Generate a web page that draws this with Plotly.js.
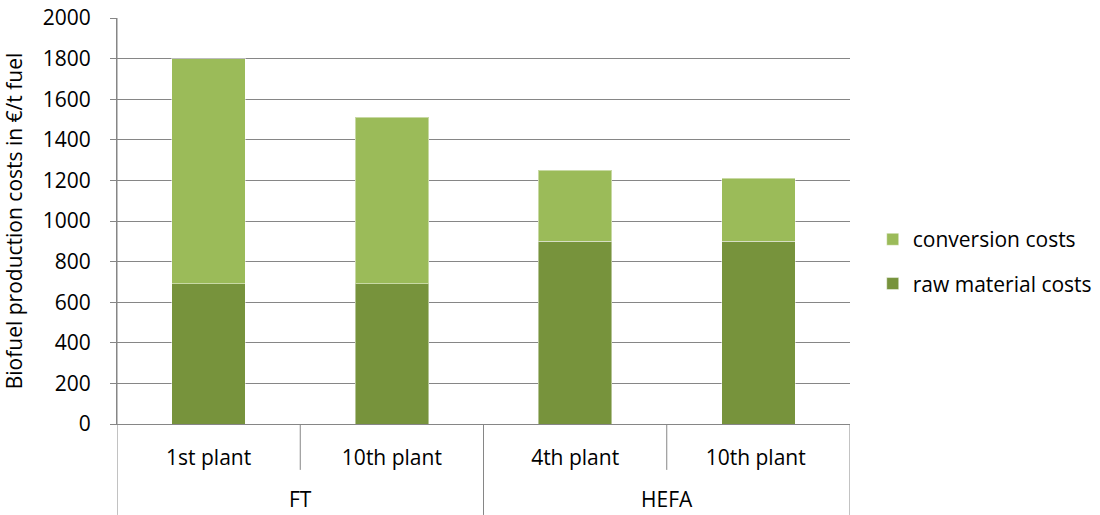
<!DOCTYPE html>
<html><head><meta charset="utf-8">
<script src="https://cdn.plot.ly/plotly-3.0.1.min.js"></script>
<style>body{margin:0;background:#fff}#c{width:1100px;height:515px}</style>
</head><body><div id="c"></div>
<script>
const plants = ["1st plant", "10th plant", "4th plant", "10th plant "];
const groups = ["FT", "HEFA"];
const groupSizes = [2, 2];
const rawMaterial = [690, 690, 900, 900];
const conversion = [1110, 820, 350, 310];
const yTicks = [0, 200, 400, 600, 800, 1000, 1200, 1400, 1600, 1800, 2000];

const font = "Open Sans, sans-serif";
const fs = 21;
const gray = "#868686";
const idx = plants.map((_, i) => i);

const traces = [
  {type: "bar", name: "raw material costs", x: idx, y: rawMaterial,
   marker: {color: "#77933C", line: {color: "rgba(255,255,255,0.45)", width: 1}},
   width: 0.4, legendrank: 2, legendgroup: "raw"},
  {type: "bar", name: "conversion costs", x: idx, y: conversion,
   marker: {color: "#9BBB59", line: {color: "rgba(255,255,255,0.45)", width: 1}},
   width: 0.4, legendrank: 1, legendgroup: "conv"}
];

const shapes = [];
const annotations = [];
shapes.push({type: "line", xref: "x", yref: "paper", x0: -0.5, x1: -0.5, y0: 1, y1: -0.224, line: {color: gray, width: 1}});
let start = 0;
groups.forEach((g, gi) => {
  const n = groupSizes[gi];
  for (let k = 1; k < n; k++) {
    shapes.push({type: "line", xref: "x", yref: "paper", x0: start + k - 0.5, x1: start + k - 0.5, y0: 0, y1: -0.113, line: {color: gray, width: 1}});
  }
  const end = start + n - 0.5;
  shapes.push({type: "line", xref: "x", yref: "paper", x0: end, x1: end, y0: 0, y1: -0.224, line: {color: gray, width: 1}});
  annotations.push({xref: "x", yref: "paper", x: start + (n - 1) / 2, y: -0.221, text: g, showarrow: false,
    font: {family: font, size: fs, color: "#000"}, yanchor: "bottom", borderpad: 0});
  start += n;
});

const layout = {
  width: 1100, height: 515,
  margin: {l: 117, r: 250, t: 18, b: 91, autoexpand: false},
  barmode: "stack",
  paper_bgcolor: "#fff", plot_bgcolor: "#fff",
  font: {family: font, size: fs, color: "#000"},
  xaxis: {
    tickmode: "array", tickvals: idx, ticktext: plants,
    range: [-0.5, plants.length - 0.5],
    showgrid: false, showline: true, linecolor: gray, linewidth: 1,
    ticks: "", ticklabelstandoff: 15, zeroline: false,
    tickfont: {family: font, size: fs, color: "#000"}
  },
  yaxis: {
    range: [0, 2000], tickmode: "array", tickvals: yTicks,
    showgrid: true, gridcolor: gray, gridwidth: 1,
    showline: true, linecolor: gray, linewidth: 1,
    ticks: "outside", ticklen: 6, tickcolor: gray, zeroline: false,
    ticklabelstandoff: 15,
    tickfont: {family: font, size: fs, color: "#000"},
    title: {text: "Biofuel production costs in €/t fuel", font: {family: font, size: fs, color: "#000"}, standoff: 14}
  },
  legend: {x: 1.031, y: 0.40, xanchor: "left", yanchor: "middle", traceorder: "grouped",
    tracegroupgap: 14, font: {family: font, size: fs, color: "#000"}, itemwidth: 30},
  shapes: shapes, annotations: annotations,
  showlegend: true
};

Plotly.newPlot("c", traces, layout, {displayModeBar: false, staticPlot: true});
</script></body></html>
